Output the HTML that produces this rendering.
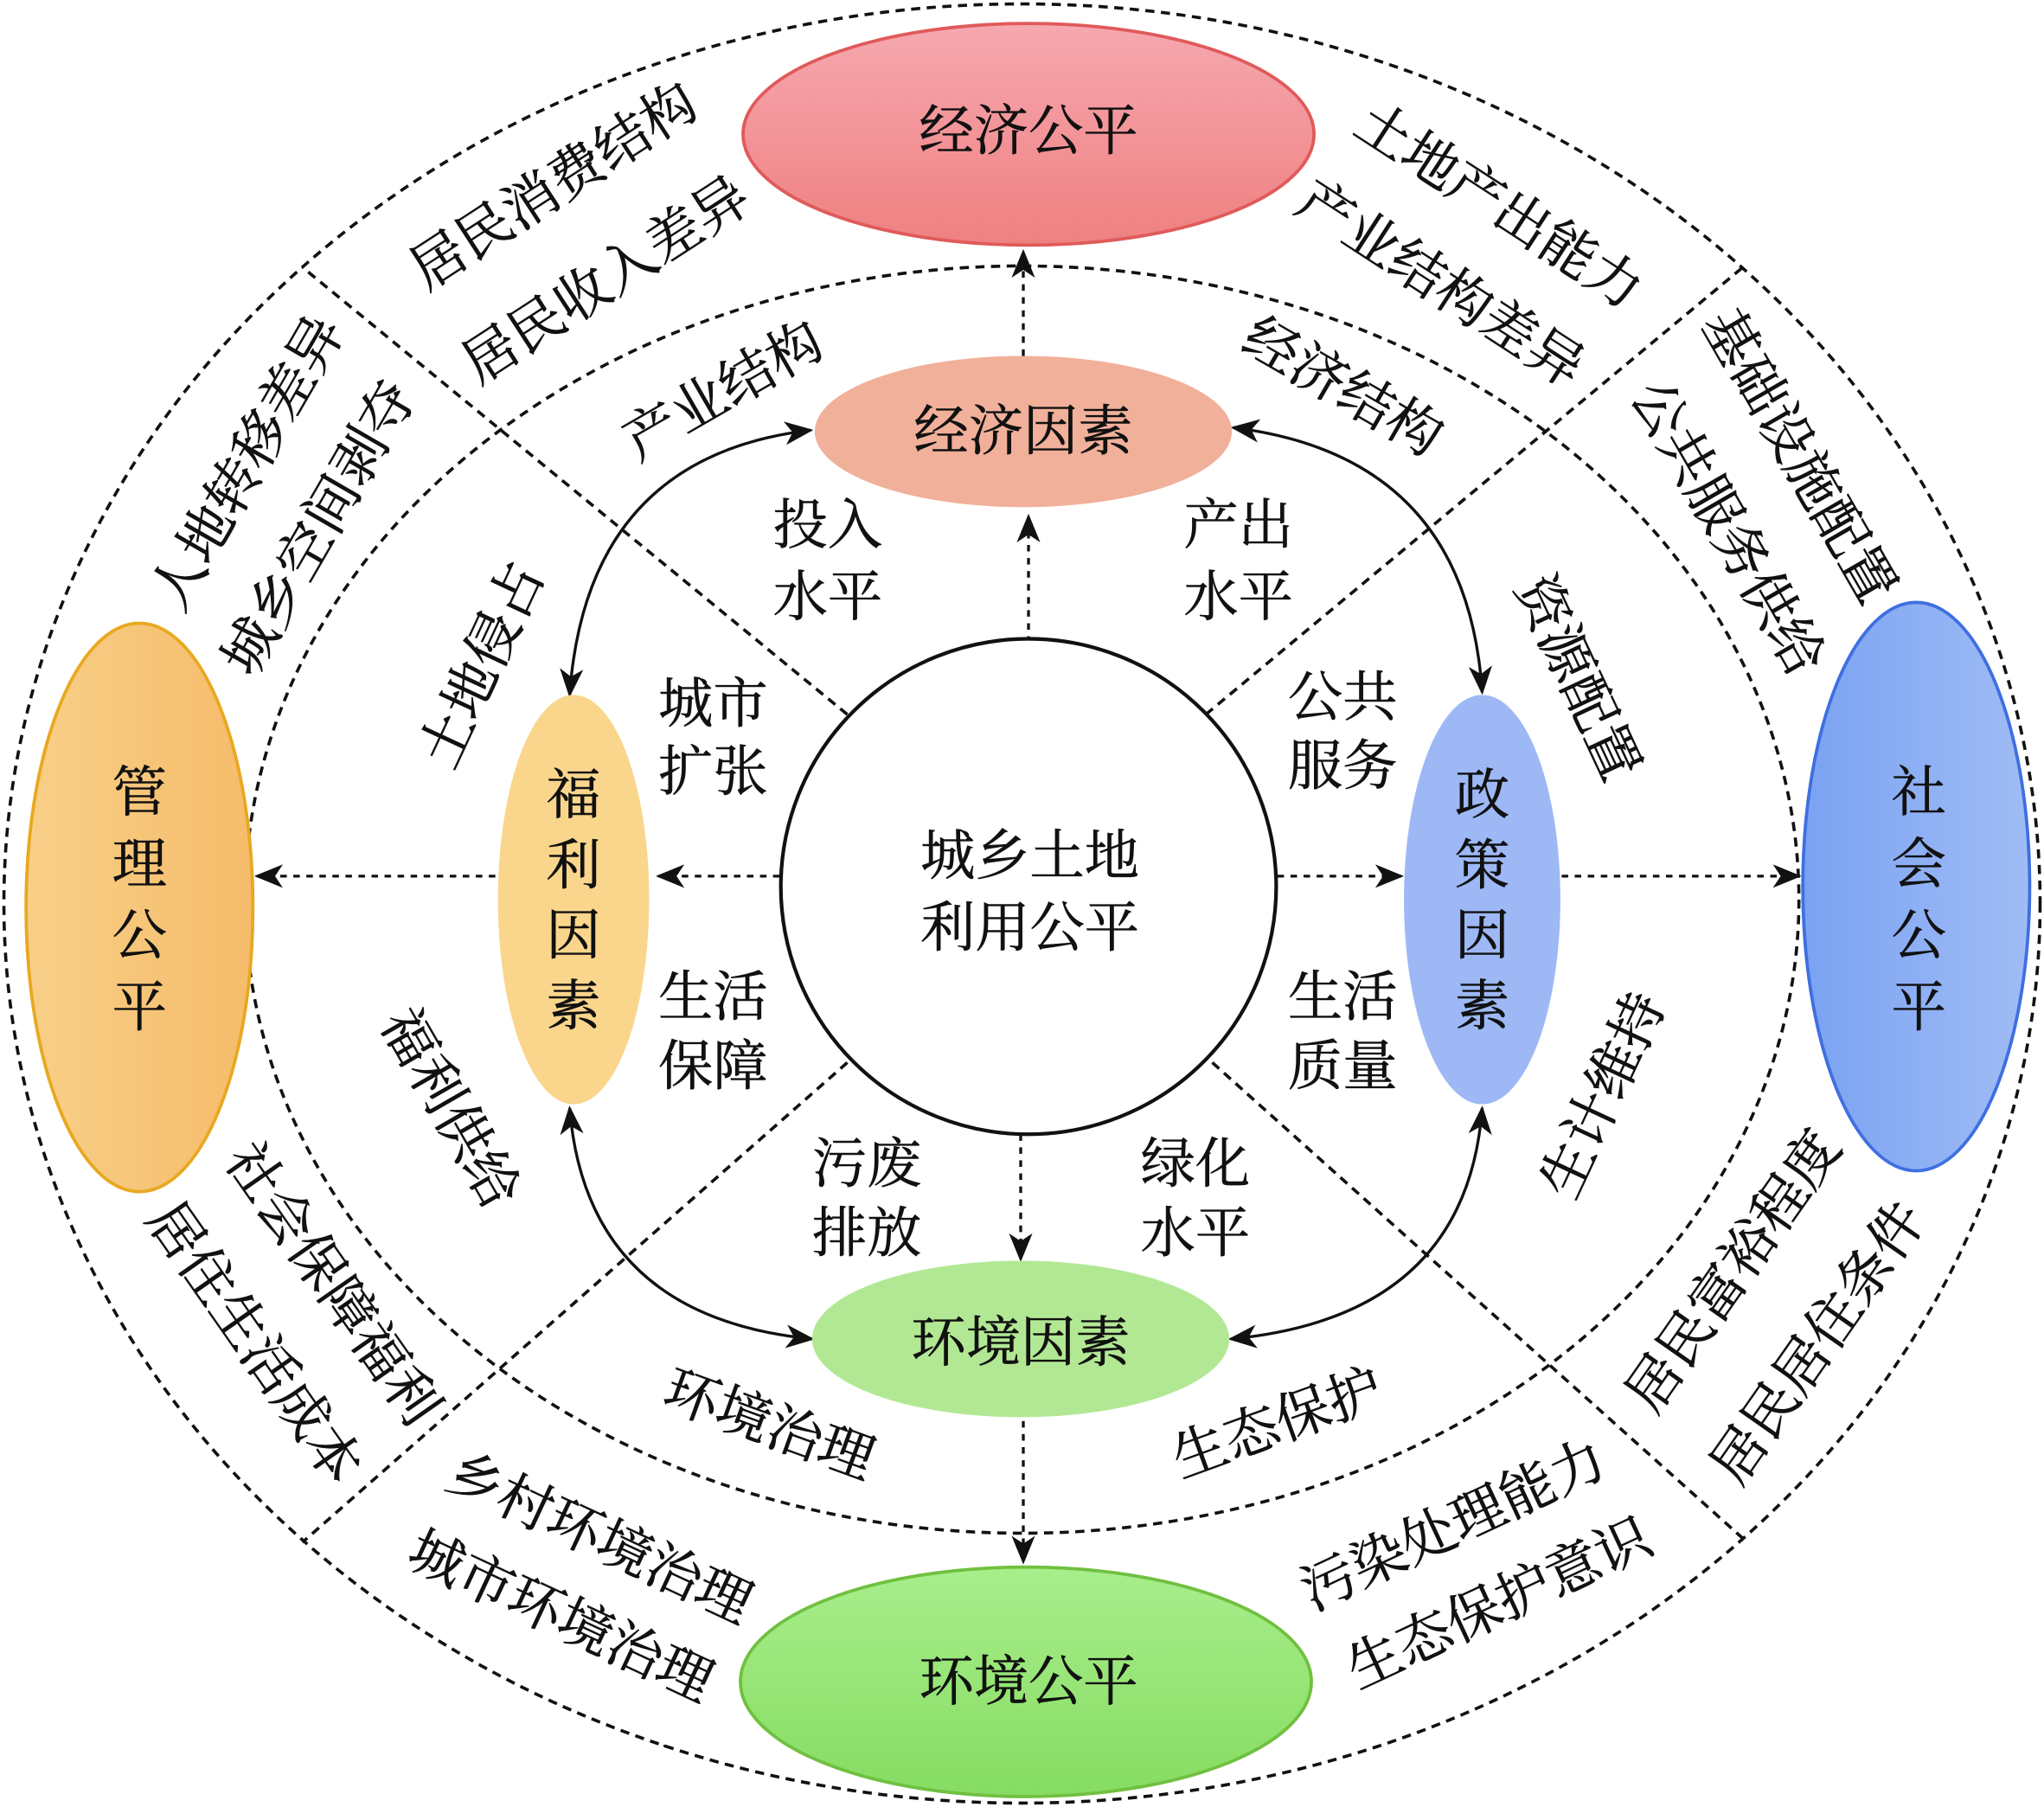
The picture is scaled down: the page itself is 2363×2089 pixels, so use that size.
<!DOCTYPE html>
<html><head><meta charset="utf-8"><style>
html,body{margin:0;padding:0;background:#fff;}
svg{display:block;}
text{font-family:"Liberation Serif","Noto Serif CJK SC",serif;font-size:42px;fill:#111;stroke:#111;stroke-width:0.4px;text-anchor:middle;dominant-baseline:central;}
</style></head><body>
<svg width="2363" height="2089" viewBox="0 0 1568 1386" preserveAspectRatio="none" xmlns="http://www.w3.org/2000/svg">
<defs>
<marker id="b" markerWidth="22" markerHeight="18" refX="20" refY="9" orient="auto" markerUnits="userSpaceOnUse"><path d="M0,0 L22,9 L0,18 L6,9 z" fill="#111"/></marker>
<marker id="bs" markerWidth="22" markerHeight="18" refX="2" refY="9" orient="auto" markerUnits="userSpaceOnUse"><path d="M22,0 L0,9 L22,18 L16,9 z" fill="#111"/></marker>
<linearGradient id="gEcon" x1="0" y1="0" x2="0" y2="1"><stop offset="0" stop-color="#f6a8b0"/><stop offset="1" stop-color="#ef8080"/></linearGradient>
<linearGradient id="gEnv" x1="0" y1="0" x2="0" y2="1"><stop offset="0" stop-color="#a8ee8c"/><stop offset="1" stop-color="#86dc62"/></linearGradient>
<linearGradient id="gMan" x1="0" y1="0" x2="1" y2="0"><stop offset="0" stop-color="#f8cf88"/><stop offset="1" stop-color="#f5bc6a"/></linearGradient>
<linearGradient id="gSoc" x1="0" y1="0" x2="1" y2="0"><stop offset="0" stop-color="#7aa2f2"/><stop offset="1" stop-color="#a0bcf5"/></linearGradient>
</defs>
<g fill="none" stroke="#111" stroke-width="2.4" stroke-dasharray="7,5">
<ellipse cx="784" cy="693" rx="781" ry="690"/>
<ellipse cx="784" cy="690" rx="596" ry="486"/>
<line x1="650" y1="548" x2="232" y2="205"/>
<line x1="925" y1="548" x2="1337" y2="205"/>
<line x1="650" y1="815" x2="232" y2="1183"/>
<line x1="930" y1="815" x2="1337" y2="1180"/>
</g>
<g stroke="#111" stroke-width="2.2" stroke-dasharray="5,5" marker-end="url(#b)">
<line x1="789" y1="493" x2="789" y2="396"/>
<line x1="785" y1="273" x2="785" y2="193"/>
<line x1="598" y1="672" x2="505" y2="672"/>
<line x1="380" y1="672" x2="197" y2="672"/>
<line x1="980" y1="672" x2="1075" y2="672"/>
<line x1="1198" y1="672" x2="1380" y2="672"/>
<line x1="783" y1="870" x2="783" y2="966"/>
<line x1="785" y1="1090" x2="785" y2="1198"/>
</g>
<g fill="none" stroke="#111" stroke-width="2.2" marker-end="url(#b)" marker-start="url(#bs)">
<path d="M622,330 Q450,350 437,533"/>
<path d="M946,328 Q1125,350 1137,531"/>
<path d="M437,850 Q450,1010 623,1027"/>
<path d="M1137,850 Q1125,1010 944,1027"/>
</g>
<circle cx="789" cy="680" r="190" fill="#fff" stroke="#111" stroke-width="2.8"/>
<ellipse cx="789" cy="103" rx="219" ry="85" fill="url(#gEcon)" stroke="#e05a5a" stroke-width="2.5"/>
<ellipse cx="785" cy="331" rx="160" ry="58" fill="#f1b09a"/>
<ellipse cx="440" cy="690" rx="58" ry="157" fill="#f9d68c"/>
<ellipse cx="1137" cy="690" rx="60" ry="157" fill="#9db8f5"/>
<ellipse cx="783" cy="1027" rx="160" ry="60" fill="#b2e894"/>
<ellipse cx="787" cy="1290" rx="219" ry="88" fill="url(#gEnv)" stroke="#70c040" stroke-width="2.5"/>
<ellipse cx="107" cy="696" rx="87" ry="218" fill="url(#gMan)" stroke="#e8a820" stroke-width="2.5"/>
<ellipse cx="1470" cy="680" rx="87" ry="218" fill="url(#gSoc)" stroke="#3f6fe0" stroke-width="2.5"/>

<text x="789" y="101">经济公平</text>
<text x="785" y="331">经济因素</text>
<text x="783" y="1030">环境因素</text>
<text x="789" y="1290">环境公平</text>
<text x="440" y="610">福</text><text x="440" y="664">利</text><text x="440" y="718">因</text><text x="440" y="772">素</text>
<text x="1137" y="610">政</text><text x="1137" y="664">策</text><text x="1137" y="718">因</text><text x="1137" y="772">素</text>
<text x="107" y="608">管</text><text x="107" y="663">理</text><text x="107" y="718">公</text><text x="107" y="773">平</text>
<text x="1472" y="608">社</text><text x="1472" y="663">会</text><text x="1472" y="718">公</text><text x="1472" y="773">平</text>
<text x="790" y="657">城乡土地</text>
<text x="790" y="712">利用公平</text>

<text x="635" y="403">投入</text><text x="635" y="458">水平</text>
<text x="950" y="403">产出</text><text x="950" y="458">水平</text>
<text x="547" y="540">城市</text><text x="547" y="592">扩张</text>
<text x="1030" y="535">公共</text><text x="1030" y="588">服务</text>
<text x="547" y="765">生活</text><text x="547" y="818">保障</text>
<text x="1030" y="765">生活</text><text x="1030" y="818">质量</text>
<text x="665" y="893">污废</text><text x="665" y="946">排放</text>
<text x="917" y="893">绿化</text><text x="917" y="946">水平</text>

<text transform="translate(425,143) rotate(-33)">居民消费结构</text>
<text transform="translate(465,215) rotate(-33)">居民收入差异</text>
<text transform="translate(1150,158) rotate(33)">土地产出能力</text>
<text transform="translate(1105,218) rotate(33)">产业结构差异</text>
<text transform="translate(190,355) rotate(-60)">人地转移差异</text>
<text transform="translate(245,405) rotate(-60)">城乡空间剥夺</text>
<text transform="translate(1380,350) rotate(60)">基础设施配置</text>
<text transform="translate(1325,405) rotate(60)">公共服务供给</text>
<text transform="translate(255,985) rotate(55)">社会保障福利</text>
<text transform="translate(195,1030) rotate(55)">居住生活成本</text>
<text transform="translate(1330,975) rotate(-55)">居民富裕程度</text>
<text transform="translate(1395,1030) rotate(-55)">居民居住条件</text>
<text transform="translate(460,1180) rotate(25)">乡村环境治理</text>
<text transform="translate(430,1240) rotate(25)">城市环境治理</text>
<text transform="translate(1115,1170) rotate(-25)">污染处理能力</text>
<text transform="translate(1150,1230) rotate(-25)">生态保护意识</text>
<text transform="translate(555,300) rotate(-30)">产业结构</text>
<text transform="translate(1030,297) rotate(30)">经济结构</text>
<text transform="translate(370,510) rotate(-65)">土地侵占</text>
<text transform="translate(1210,520) rotate(65)">资源配置</text>
<text transform="translate(345,850) rotate(60)">福利供给</text>
<text transform="translate(1230,840) rotate(-65)">生计维持</text>
<text transform="translate(590,1093) rotate(20)">环境治理</text>
<text transform="translate(980,1092) rotate(-20)">生态保护</text>
</svg>
</body></html>
